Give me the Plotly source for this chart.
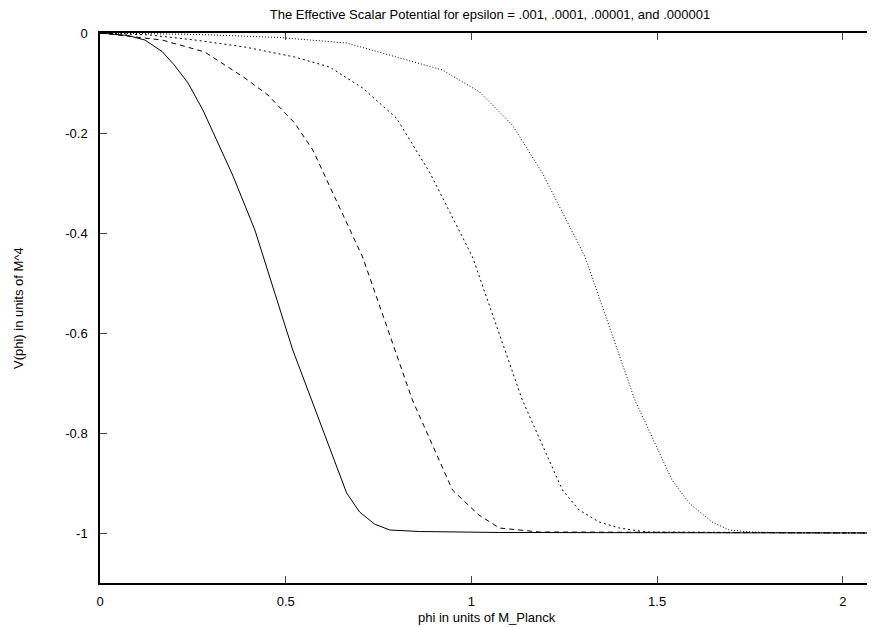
import plotly.graph_objects as go

# eps = .001 (solid)
x1 = [0, 0.075, 0.121, 0.167, 0.2, 0.237, 0.277, 0.357, 0.417, 0.519, 0.664, 0.699, 0.739, 0.78, 0.86, 1.075, 2.1]
v1 = [0, -0.005, -0.014, -0.037, -0.064, -0.1, -0.154, -0.284, -0.394, -0.634, -0.92, -0.958, -0.982, -0.994, -0.997, -0.999, -1.0]

# eps = .0001 (dashed)
x2 = [0, 0.167, 0.282, 0.39, 0.452, 0.524, 0.573, 0.707, 0.841, 0.949, 1.02, 1.075, 1.183, 2.1]
v2 = [0, -0.014, -0.038, -0.09, -0.124, -0.18, -0.234, -0.448, -0.734, -0.914, -0.964, -0.99, -0.998, -1.0]

# eps = .00001 (short dashes)
x3 = [0, 0.134, 0.255, 0.39, 0.524, 0.618, 0.707, 0.798, 0.887, 1.003, 1.137, 1.245, 1.29, 1.344, 1.398, 1.47, 2.1]
v3 = [0, -0.004, -0.014, -0.028, -0.048, -0.068, -0.11, -0.17, -0.278, -0.448, -0.734, -0.914, -0.954, -0.978, -0.99, -0.998, -1.0]

# eps = .000001 (dotted)
x4 = [0, 0.269, 0.484, 0.664, 0.922, 1.022, 1.110, 1.191, 1.306, 1.44, 1.54, 1.586, 1.648, 1.694, 1.755, 1.85, 2.1]
v4 = [0, -0.003, -0.009, -0.02, -0.074, -0.118, -0.184, -0.28, -0.448, -0.734, -0.894, -0.94, -0.978, -0.994, -0.998, -0.9995, -1.0]

xticks = [0, 0.5, 1, 1.5, 2]
xtick_text = ["0", "0.5", "1", "1.5", "2"]
yticks = [0, -0.2, -0.4, -0.6, -0.8, -1]
ytick_text = ["0", "-0.2", "-0.4", "-0.6", "-0.8", "-1"]

font = "Liberation Sans, Arial, Helvetica, sans-serif"

W, H = 880, 627
L, T, B, R = 92, 25, 52, 8
PW, PH = W - L - R, H - T - B

fig = go.Figure()
styles = [("solid", x1, v1), ("5px,4px", x2, v2), ("2px,3px", x3, v3), ("1px,2px", x4, v4)]
for dash, xs, vs in styles:
    fig.add_trace(go.Scatter(x=xs, y=vs, mode="lines",
                             line=dict(color="black", width=1, dash=dash),
                             showlegend=False, hoverinfo="skip"))

fig.update_layout(
    width=W, height=H,
    margin=dict(l=L, r=R, t=T, b=B, autoexpand=False),
    paper_bgcolor="white", plot_bgcolor="white",
    font=dict(family=font, size=13, color="black"),
    title=dict(text="The Effective Scalar Potential for epsilon = .001, .0001, .00001, and .000001",
               x=482 / W, xanchor="center", xref="container",
               y=1 - 6 / H, yanchor="middle", yref="container",
               font=dict(size=13, family=font)),
    annotations=[
        dict(text="phi in units of M_Planck", xref="paper", yref="paper",
             x=(479 - L) / PW, y=-34 / PH, xanchor="center", yanchor="middle",
             showarrow=False, font=dict(size=13)),
        dict(text="V(phi) in units of M^4", xref="paper", yref="paper",
             x=(10 - L) / PW, y=0.5, xanchor="center", yanchor="middle",
             textangle=-90, showarrow=False, font=dict(size=13)),
    ],
)

fig.update_xaxes(range=[0, 2.1], tickvals=xticks, ticktext=xtick_text,
                 ticks="inside", ticklen=7, tickcolor="#444", tickwidth=1,
                 showline=True, linecolor="black", linewidth=1.5, mirror="ticks",
                 showgrid=False, zeroline=False, ticklabelstandoff=6,
                 automargin=False)
fig.update_yaxes(range=[-1.1, 0], tickvals=yticks, ticktext=ytick_text,
                 ticks="inside", ticklen=7, tickcolor="#444", tickwidth=1,
                 showline=True, linecolor="black", linewidth=1.5, mirror="ticks",
                 showgrid=False, zeroline=False, ticklabelstandoff=8,
                 automargin=False)

fig.write_html("out.html")
